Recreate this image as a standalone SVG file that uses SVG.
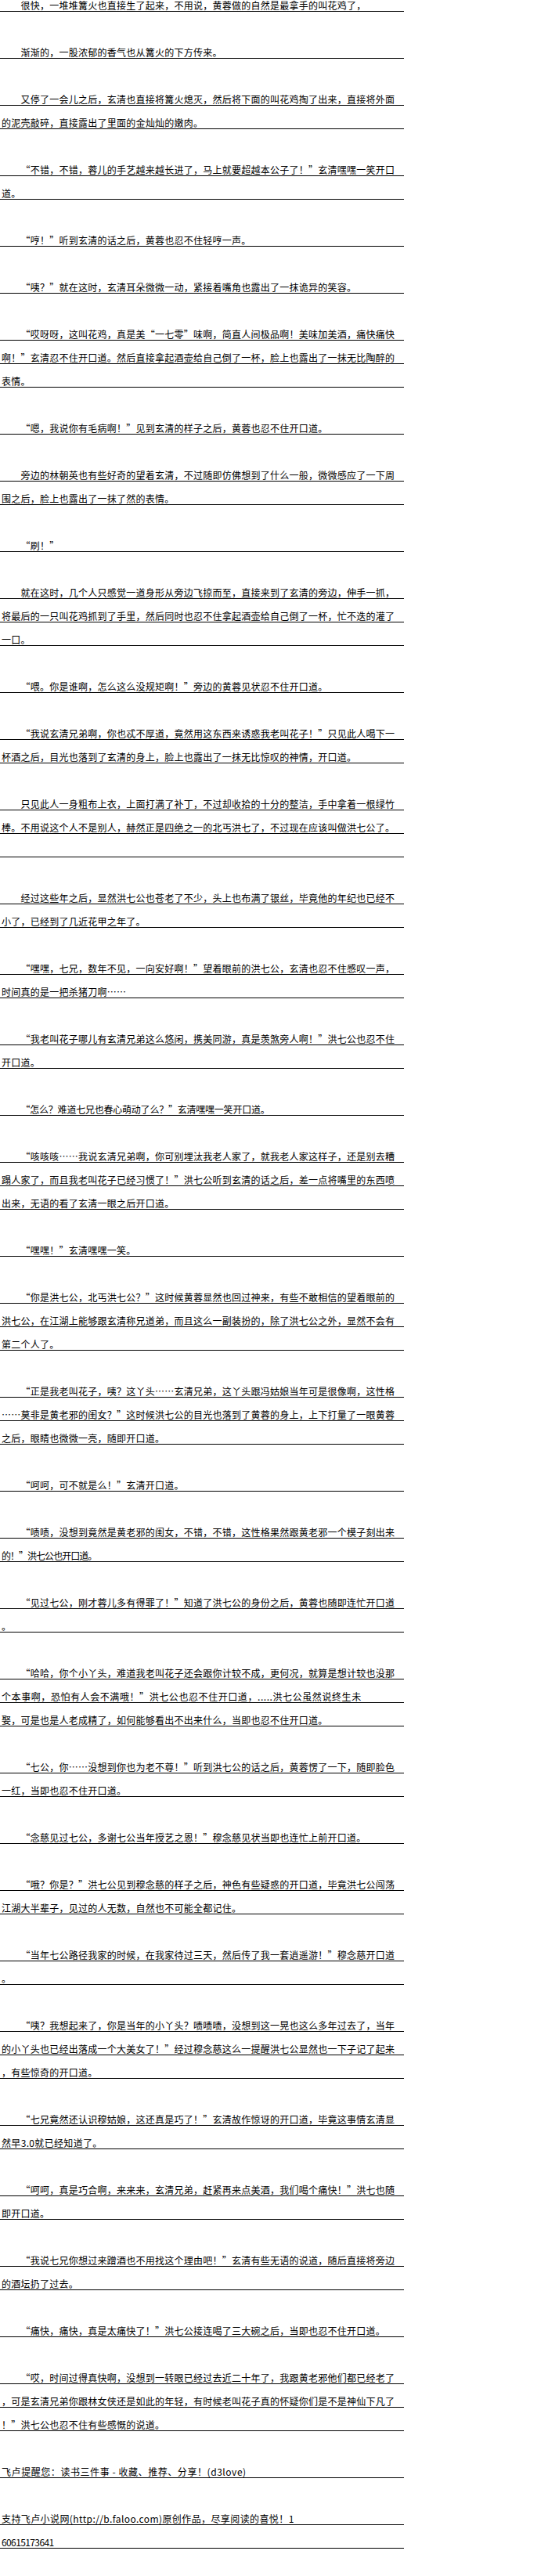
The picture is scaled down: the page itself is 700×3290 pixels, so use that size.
<svg xmlns="http://www.w3.org/2000/svg" width="700" height="3290" viewBox="0 0 700 3290">
<style>
.t{font-family:"Noto Sans CJK SC","Noto Sans CJK JP",sans-serif;font-size:12px;letter-spacing:0.25px;fill:#000}
.r{stroke:#000;stroke-width:1;fill:none}
</style>
<rect width="700" height="3290" fill="#fff"/>
<g id="rules"><path class="r" d="M0 14.5H516M0 74.5H516M0 134.5H516M0 164.5H516M0 224.5H516M0 254.5H516M0 314.5H516M0 374.5H516M0 434.5H516M0 464.5H516M0 494.5H516M0 554.5H516M0 614.5H516M0 644.5H516M0 704.5H516M0 764.5H516M0 794.5H516M0 824.5H516M0 884.5H516M0 944.5H516M0 974.5H516M0 1034.5H516M0 1064.5H516M0 1094.5H516M0 1154.5H516M0 1184.5H516M0 1244.5H516M0 1274.5H516M0 1334.5H516M0 1364.5H516M0 1424.5H516M0 1484.5H516M0 1514.5H516M0 1544.5H516M0 1604.5H516M0 1664.5H516M0 1694.5H516M0 1724.5H516M0 1784.5H516M0 1814.5H516M0 1844.5H516M0 1904.5H516M0 1964.5H516M0 1994.5H516M0 2054.5H516M0 2084.5H516M0 2144.5H516M0 2174.5H516M0 2204.5H516M0 2264.5H516M0 2294.5H516M0 2354.5H516M0 2414.5H516M0 2444.5H516M0 2504.5H516M0 2534.5H516M0 2594.5H516M0 2624.5H516M0 2654.5H516M0 2714.5H516M0 2744.5H516M0 2804.5H516M0 2834.5H516M0 2894.5H516M0 2924.5H516M0 2984.5H516M0 3044.5H516M0 3074.5H516M0 3104.5H516M0 3164.5H516M0 3224.5H516M0 3254.5H516"/></g>
<g id="p01"><text class="t" x="26.5" y="12">很快，一堆堆篝火也直接生了起来，不用说，黄蓉做的自然是最拿手的叫花鸡了，</text></g>
<g id="p02"><text class="t" x="26.5" y="72">渐渐的，一股浓郁的香气也从篝火的下方传来。</text></g>
<g id="p03"><text class="t" x="26.5" y="132" textLength="477.75" lengthAdjust="spacing">又停了一会儿之后，玄清也直接将篝火熄灭，然后将下面的叫花鸡掏了出来，直接将外面</text>
<text class="t" x="2" y="162">的泥壳敲碎，直接露出了里面的金灿灿的嫩肉。</text></g>
<g id="p04"><text class="t" x="26.5" y="222" textLength="477.75" lengthAdjust="spacing">“不错，不错，蓉儿的手艺越来越长进了，马上就要超越本公子了！”玄清嘿嘿一笑开口</text>
<text class="t" x="2" y="252">道。</text></g>
<g id="p05"><text class="t" x="26.5" y="312" textLength="294" lengthAdjust="spacing">“哼！”听到玄清的话之后，黄蓉也忍不住轻哼一声。</text></g>
<g id="p06"><text class="t" x="26.5" y="372" textLength="428.75" lengthAdjust="spacing">“咦？”就在这时，玄清耳朵微微一动，紧接着嘴角也露出了一抹诡异的笑容。</text></g>
<g id="p07"><text class="t" x="26.5" y="432" textLength="477.75" lengthAdjust="spacing">“哎呀呀，这叫花鸡，真是美“一七零”味啊，简直人间极品啊！美味加美酒，痛快痛快</text>
<text class="t" x="2" y="462" textLength="502.25" lengthAdjust="spacing">啊！”玄清忍不住开口道。然后直接拿起酒壶给自己倒了一杯，脸上也露出了一抹无比陶醉的</text>
<text class="t" x="2" y="492">表情。</text></g>
<g id="p08"><text class="t" x="26.5" y="552" textLength="392" lengthAdjust="spacing">“嗯，我说你有毛病啊！”见到玄清的样子之后，黄蓉也忍不住开口道。</text></g>
<g id="p09"><text class="t" x="26.5" y="612" textLength="477.75" lengthAdjust="spacing">旁边的林朝英也有些好奇的望着玄清，不过随即仿佛想到了什么一般，微微感应了一下周</text>
<text class="t" x="2" y="642">围之后，脸上也露出了一抹了然的表情。</text></g>
<g id="p10"><text class="t" x="26.5" y="702" textLength="49" lengthAdjust="spacing">“刷！”</text></g>
<g id="p11"><text class="t" x="26.5" y="762" textLength="477.75" lengthAdjust="spacing">就在这时，几个人只感觉一道身形从旁边飞掠而至，直接来到了玄清的旁边，伸手一抓，</text>
<text class="t" x="2" y="792" textLength="502.25" lengthAdjust="spacing">将最后的一只叫花鸡抓到了手里，然后同时也忍不住拿起酒壶给自己倒了一杯，忙不迭的灌了</text>
<text class="t" x="2" y="822">一口。</text></g>
<g id="p12"><text class="t" x="26.5" y="882" textLength="392" lengthAdjust="spacing">“喂。你是谁啊，怎么这么没规矩啊！”旁边的黄蓉见状忍不住开口道。</text></g>
<g id="p13"><text class="t" x="26.5" y="942" textLength="477.75" lengthAdjust="spacing">“我说玄清兄弟啊，你也忒不厚道，竟然用这东西来诱惑我老叫花子！”只见此人喝下一</text>
<text class="t" x="2" y="972">杯酒之后，目光也落到了玄清的身上，脸上也露出了一抹无比惊叹的神情，开口道。</text></g>
<g id="p14"><text class="t" x="26.5" y="1032" textLength="477.75" lengthAdjust="spacing">只见此人一身粗布上衣，上面打满了补丁，不过却收拾的十分的整洁，手中拿着一根绿竹</text>
<text class="t" x="2" y="1062" textLength="502.25" lengthAdjust="spacing">棒。不用说这个人不是别人，赫然正是四绝之一的北丐洪七了，不过现在应该叫做洪七公了。</text></g>
<g id="p15"><text class="t" x="26.5" y="1152" textLength="477.75" lengthAdjust="spacing">经过这些年之后，显然洪七公也苍老了不少，头上也布满了银丝，毕竟他的年纪也已经不</text>
<text class="t" x="2" y="1182">小了，已经到了几近花甲之年了。</text></g>
<g id="p16"><text class="t" x="26.5" y="1242" textLength="477.75" lengthAdjust="spacing">“嘿嘿，七兄，数年不见，一向安好啊！”望着眼前的洪七公，玄清也忍不住感叹一声，</text>
<text class="t" x="2" y="1272" textLength="159.25" lengthAdjust="spacing">时间真的是一把杀猪刀啊……</text></g>
<g id="p17"><text class="t" x="26.5" y="1332" textLength="477.75" lengthAdjust="spacing">“我老叫花子哪儿有玄清兄弟这么悠闲，携美同游，真是羡煞旁人啊！”洪七公也忍不住</text>
<text class="t" x="2" y="1362">开口道。</text></g>
<g id="p18"><text class="t" x="26.5" y="1422" textLength="318.5" lengthAdjust="spacing">“怎么？难道七兄也春心萌动了么？”玄清嘿嘿一笑开口道。</text></g>
<g id="p19"><text class="t" x="26.5" y="1482" textLength="477.75" lengthAdjust="spacing">“咳咳咳……我说玄清兄弟啊，你可别埋汰我老人家了，就我老人家这样子，还是别去糟</text>
<text class="t" x="2" y="1512" textLength="502.25" lengthAdjust="spacing">蹋人家了，而且我老叫花子已经习惯了！”洪七公听到玄清的话之后，差一点将嘴里的东西喷</text>
<text class="t" x="2" y="1542">出来，无语的看了玄清一眼之后开口道。</text></g>
<g id="p20"><text class="t" x="26.5" y="1602" textLength="147" lengthAdjust="spacing">“嘿嘿！”玄清嘿嘿一笑。</text></g>
<g id="p21"><text class="t" x="26.5" y="1662" textLength="477.75" lengthAdjust="spacing">“你是洪七公，北丐洪七公？”这时候黄蓉显然也回过神来，有些不敢相信的望着眼前的</text>
<text class="t" x="2" y="1692" textLength="502.25" lengthAdjust="spacing">洪七公，在江湖上能够跟玄清称兄道弟，而且这么一副装扮的，除了洪七公之外，显然不会有</text>
<text class="t" x="2" y="1722">第二个人了。</text></g>
<g id="p22"><text class="t" x="26.5" y="1782" textLength="477.75" lengthAdjust="spacing">“正是我老叫花子，咦？这丫头……玄清兄弟，这丫头跟冯姑娘当年可是很像啊，这性格</text>
<text class="t" x="2" y="1812" textLength="502.25" lengthAdjust="spacing">……莫非是黄老邪的闺女？”这时候洪七公的目光也落到了黄蓉的身上，上下打量了一眼黄蓉</text>
<text class="t" x="2" y="1842">之后，眼睛也微微一亮，随即开口道。</text></g>
<g id="p23"><text class="t" x="26.5" y="1902" textLength="208.25" lengthAdjust="spacing">“呵呵，可不就是么！”玄清开口道。</text></g>
<g id="p24"><text class="t" x="26.5" y="1962" textLength="477.75" lengthAdjust="spacing">“啧啧，没想到竟然是黄老邪的闺女，不错，不错，这性格果然跟黄老邪一个模子刻出来</text>
<text class="t" x="2" y="1992" textLength="122.5" lengthAdjust="spacing">的！”洪七公也开口道。</text></g>
<g id="p25"><text class="t" x="26.5" y="2052" textLength="477.75" lengthAdjust="spacing">“见过七公，刚才蓉儿多有得罪了！”知道了洪七公的身份之后，黄蓉也随即连忙开口道</text>
<text class="t" x="2" y="2082">。</text></g>
<g id="p26"><text class="t" x="26.5" y="2142" textLength="477.75" lengthAdjust="spacing">“哈哈，你个小丫头，难道我老叫花子还会跟你计较不成，更何况，就算是想计较也没那</text>
<text class="t" x="2" y="2172" textLength="459.4" lengthAdjust="spacing">个本事啊，恐怕有人会不满哦！”洪七公也忍不住开口道，.....洪七公虽然说终生未</text>
<text class="t" x="2" y="2202">娶，可是也是人老成精了，如何能够看出不出来什么，当即也忍不住开口道。</text></g>
<g id="p27"><text class="t" x="26.5" y="2262" textLength="477.75" lengthAdjust="spacing">“七公，你……没想到你也为老不尊！”听到洪七公的话之后，黄蓉愣了一下，随即脸色</text>
<text class="t" x="2" y="2292">一红，当即也忍不住开口道。</text></g>
<g id="p28"><text class="t" x="26.5" y="2352" textLength="441" lengthAdjust="spacing">“念慈见过七公，多谢七公当年授艺之恩！”穆念慈见状当即也连忙上前开口道。</text></g>
<g id="p29"><text class="t" x="26.5" y="2412" textLength="477.75" lengthAdjust="spacing">“哦？你是？”洪七公见到穆念慈的样子之后，神色有些疑惑的开口道，毕竟洪七公闯荡</text>
<text class="t" x="2" y="2442">江湖大半辈子，见过的人无数，自然也不可能全都记住。</text></g>
<g id="p30"><text class="t" x="26.5" y="2502" textLength="477.75" lengthAdjust="spacing">“当年七公路径我家的时候，在我家待过三天，然后传了我一套逍遥游！”穆念慈开口道</text>
<text class="t" x="2" y="2532">。</text></g>
<g id="p31"><text class="t" x="26.5" y="2592" textLength="477.75" lengthAdjust="spacing">“咦？我想起来了，你是当年的小丫头？啧啧啧，没想到这一晃也这么多年过去了，当年</text>
<text class="t" x="2" y="2622" textLength="502.25" lengthAdjust="spacing">的小丫头也已经出落成一个大美女了！”经过穆念慈这么一提醒洪七公显然也一下子记了起来</text>
<text class="t" x="2" y="2652">，有些惊奇的开口道。</text></g>
<g id="p32"><text class="t" x="26.5" y="2712" textLength="477.75" lengthAdjust="spacing">“七兄竟然还认识穆姑娘，这还真是巧了！”玄清故作惊讶的开口道，毕竟这事情玄清显</text>
<text class="t" x="2" y="2742" textLength="128.6" lengthAdjust="spacing">然早3.0就已经知道了。</text></g>
<g id="p33"><text class="t" x="26.5" y="2802" textLength="477.75" lengthAdjust="spacing">“呵呵，真是巧合啊，来来来，玄清兄弟，赶紧再来点美酒，我们喝个痛快！”洪七也随</text>
<text class="t" x="2" y="2832">即开口道。</text></g>
<g id="p34"><text class="t" x="26.5" y="2892" textLength="477.75" lengthAdjust="spacing">“我说七兄你想过来蹭酒也不用找这个理由吧！”玄清有些无语的说道，随后直接将旁边</text>
<text class="t" x="2" y="2922">的酒坛扔了过去。</text></g>
<g id="p35"><text class="t" x="26.5" y="2982" textLength="465.5" lengthAdjust="spacing">“痛快，痛快，真是太痛快了！”洪七公接连喝了三大碗之后，当即也忍不住开口道。</text></g>
<g id="p36"><text class="t" x="26.5" y="3042" textLength="477.75" lengthAdjust="spacing">“哎，时间过得真快啊，没想到一转眼已经过去近二十年了，我跟黄老邪他们都已经老了</text>
<text class="t" x="2" y="3072" textLength="502.25" lengthAdjust="spacing">，可是玄清兄弟你跟林女侠还是如此的年轻，有时候老叫花子真的怀疑你们是不是神仙下凡了</text>
<text class="t" x="2" y="3102" textLength="208.25" lengthAdjust="spacing">！”洪七公也忍不住有些感慨的说道。</text></g>
<g id="p37"><text class="t" x="2" y="3162" textLength="312.4" lengthAdjust="spacing">飞卢提醒您：读书三件事 - 收藏、推荐、分享！(d3love)</text></g>
<g id="p38"><text class="t" x="2" y="3222" textLength="373.6" lengthAdjust="spacing">支持飞卢小说网(http://b.faloo.com)原创作品，尽享阅读的喜悦！1</text>
<text class="t" x="2" y="3252" textLength="67.4" lengthAdjust="spacing">60615173641</text></g>
</svg>
